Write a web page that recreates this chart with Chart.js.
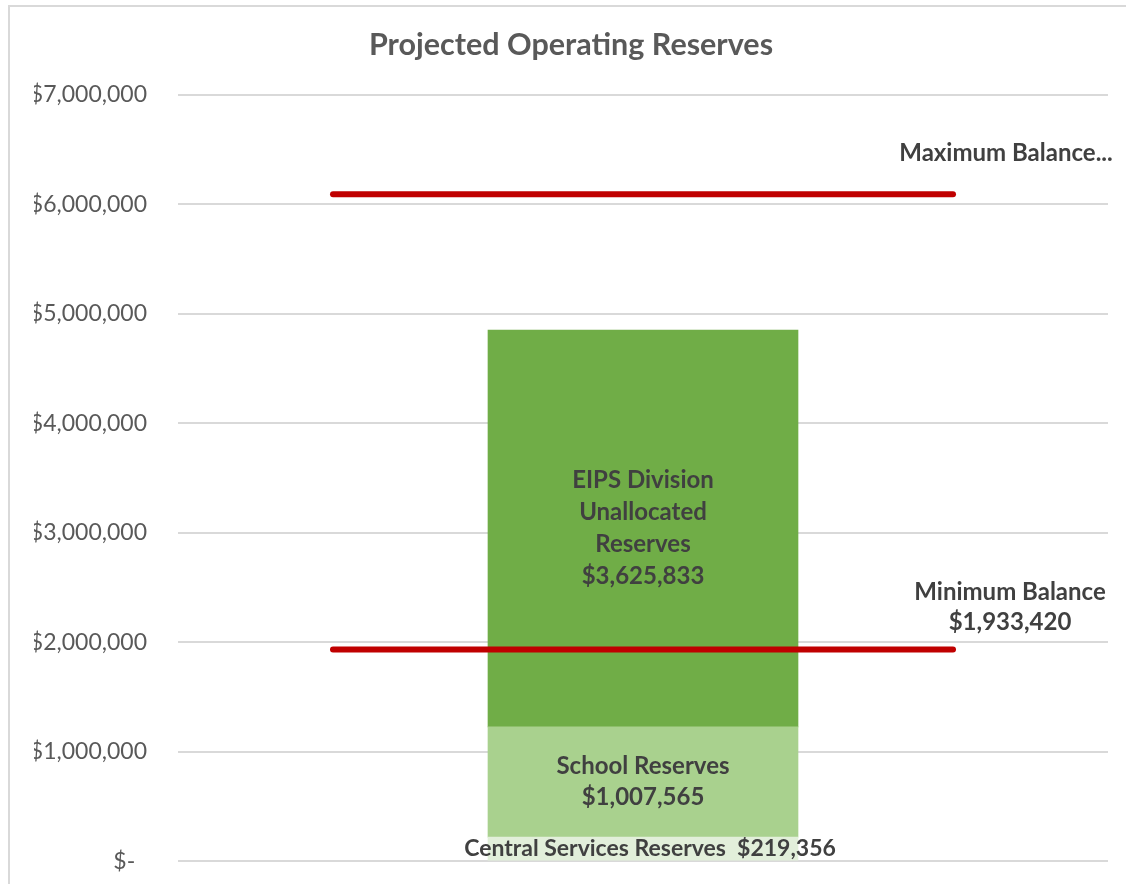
<!DOCTYPE html>
<html>
<head>
<meta charset="utf-8">
<title>Projected Operating Reserves</title>
<script src="https://cdn.jsdelivr.net/npm/chart.js@4.4.1/dist/chart.umd.min.js"></script>
<style>
  html, body { margin: 0; padding: 0; background: #fff; overflow: hidden; }
  #wrap { position: relative; width: 1126px; height: 884px; overflow: hidden; }
  #frame {
    position: absolute; left: 8px; top: 5px; width: 1140px; height: 920px;
    border-left: 2px solid #d9d9d9; border-top: 2px solid #d9d9d9;
    pointer-events: none;
  }
  #chart { position: absolute; left: 8px; top: 5px; }
</style>
</head>
<body>
<div id="wrap">
  <canvas id="chart" width="1126" height="901"></canvas>
  <div id="frame"></div>
</div>
<script>
  const FONT = "Lato, 'Open Sans', sans-serif";
  const TEXT = "#404040";

  // --- DATA ---
  const slots = ["", "", ""];
  const centralServices = [null, 219356, null];
  const schoolReserves = [null, 1007565, null];
  const divisionUnallocated = [null, 3625833, null];
  const maximumBalance = [6093000, 6093000, 6093000];
  const minimumBalance = [1933420, 1933420, 1933420];
  const yTicks = [0, 1000000, 2000000, 3000000, 4000000, 5000000, 6000000, 7000000];

  // --- UTILS ---
  const money = (v) => "$" + String(v).replace(/\B(?=(\d{3})+(?!\d))/g, ",");

  // text drawn on the bar segments and beside the balance lines
  const reserveLabels = {
    id: "reserveLabels",
    afterDatasetsDraw(chart) {
      const ctx = chart.ctx;
      ctx.save();
      ctx.fillStyle = TEXT;
      ctx.textAlign = "center";
      ctx.textBaseline = "middle";

      chart.data.datasets.forEach((ds, i) => {
        if (!ds.labelLines) return;
        const meta = chart.getDatasetMeta(i);
        const off = ds.labelOffset || { x: 0, y: 0 };
        let x, y;
        if (ds.type === "line") {
          const pt = meta.data[meta.data.length - 1];
          x = pt.x + off.x;
          y = pt.y + off.y;
        } else {
          const bar = meta.data[1];
          x = bar.x + off.x;
          y = (bar.y + bar.base) / 2 + off.y;
        }
        ctx.font = "bold " + (ds.labelSize || 24) + "px " + FONT;
        const lh = ds.lineHeight || 31;
        const top = y - (ds.labelLines.length - 1) * lh / 2;
        ds.labelLines.forEach((t, k) => ctx.fillText(t, x, top + k * lh));
      });
      ctx.restore();
    }
  };

  const ctx = document.getElementById("chart").getContext("2d");
  new Chart(ctx, {
    data: {
      labels: slots,
      datasets: [
        {
          type: "line", label: "Maximum Balance", data: maximumBalance, stack: "max",
          borderColor: "#C00000", borderWidth: 6, borderCapStyle: "round",
          pointRadius: 0, order: 0,
          labelLines: ["Maximum Balance..."], labelOffset: { x: 53, y: -41 }
        },
        {
          type: "line", label: "Minimum Balance", data: minimumBalance, stack: "min",
          borderColor: "#C00000", borderWidth: 6, borderCapStyle: "round",
          pointRadius: 0, order: 0,
          labelLines: ["Minimum Balance", money(minimumBalance[2])], labelOffset: { x: 57, y: -42 }, lineHeight: 30
        },
        {
          type: "bar", label: "Central Services Reserves", data: centralServices, stack: "reserves",
          backgroundColor: "#E2EFDA", order: 1, labelSize: 23, labelOffset: { x: 7, y: 0 },
          labelLines: ["Central Services Reserves  " + money(centralServices[1])]
        },
        {
          type: "bar", label: "School Reserves", data: schoolReserves, stack: "reserves",
          backgroundColor: "#A9D18E", order: 1,
          labelLines: ["School Reserves", money(schoolReserves[1])]
        },
        {
          type: "bar", label: "EIPS Division Unallocated Reserves", data: divisionUnallocated, stack: "reserves",
          backgroundColor: "#70AD47", order: 1, lineHeight: 32,
          labelLines: ["EIPS Division", "Unallocated", "Reserves", money(divisionUnallocated[1])]
        }
      ]
    },
    options: {
      responsive: false,
      animation: false,
      layout: { padding: { top: 0, right: 26, bottom: 4, left: 26 } },
      datasets: { bar: { barPercentage: 1, categoryPercentage: 1, borderWidth: 0 } },
      plugins: {
        legend: { display: false },
        tooltip: { enabled: false },
        title: {
          display: true,
          text: "Projected Operating Reserves",
          color: "#595959",
          font: { family: FONT, size: 30.5, weight: "bold", lineHeight: 1.2 },
          padding: { top: 22, bottom: 31.4 }
        }
      },
      scales: {
        x: { display: false, stacked: true, offset: true },
        y: {
          stacked: true,
          min: 0,
          max: 7000000,
          afterBuildTicks: (scale) => { scale.ticks = yTicks.map(v => ({ value: v })); },
          afterFit: (scale) => { scale.width = 144; },
          border: { display: false },
          grid: { color: "#d9d9d9", lineWidth: 2, drawTicks: false },
          ticks: {
            color: "#595959",
            padding: 31,
            font: { family: FONT, size: 23 },
            callback: (v) => v === 0 ? "$-  " : money(v)
          }
        }
      }
    },
    plugins: [reserveLabels]
  });
</script>
</body>
</html>
